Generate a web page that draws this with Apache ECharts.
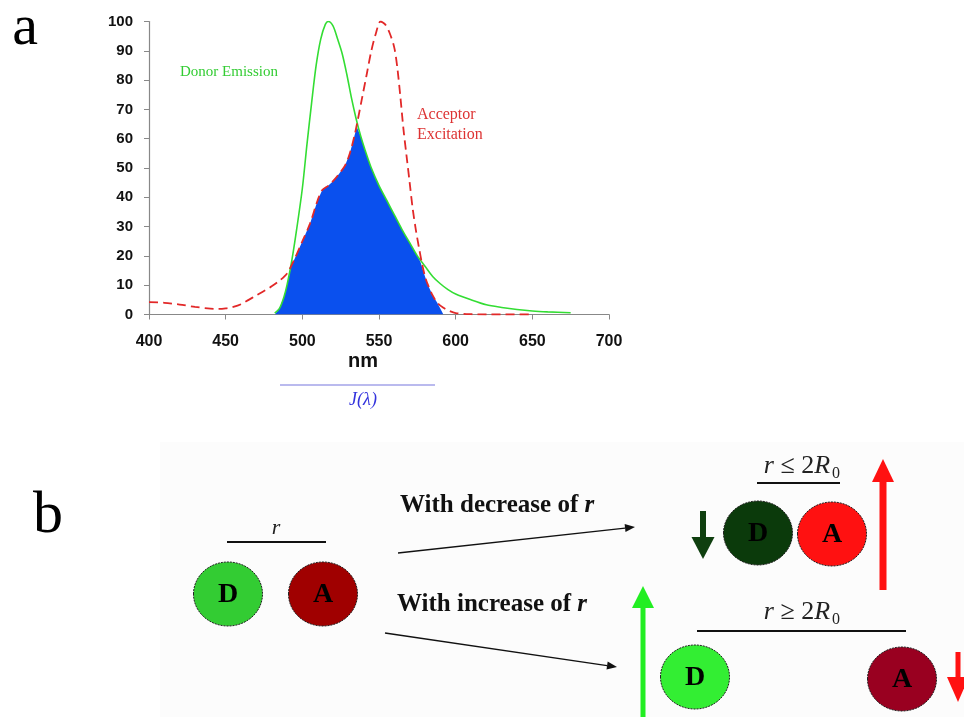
<!DOCTYPE html>
<html>
<head>
<meta charset="utf-8">
<script src="https://cdn.jsdelivr.net/npm/echarts@6/dist/echarts.min.js"></script>
<style>
html, body { margin: 0; padding: 0; background: #fff; }
#chart { width: 964px; height: 717px; }
</style>
</head>
<body>
<div id="chart"></div>
<script>
// spectra: [wavelength nm, normalised intensity]
var donorEmission = [
	[482, 0.5], [485, 2], [488, 6], [490, 10], [493, 18], [496, 28], [500, 43], [503, 58],
	[506, 72], [509, 85], [512, 94], [515, 99], [517, 100], [520, 98.5], [523, 94], [526, 89],
	[529, 82], [532, 74], [535, 67], [538, 61], [541, 56], [545, 50], [550, 44], [555, 39],
	[560, 34], [565, 29], [570, 24.5], [575, 20], [580, 16.5], [585, 13], [590, 10.5], [595, 8.5],
	[600, 7], [610, 5], [620, 3.3], [630, 2.4], [640, 1.7], [650, 1.2], [660, 0.9], [675, 0.6]
];
var acceptorExcitation = [
	[400, 4.2], [410, 4], [420, 3.4], [430, 2.6], [440, 2], [445, 1.9], [450, 2.1], [455, 2.6],
	[460, 3.5], [465, 5], [470, 6.5], [475, 8], [480, 9.6], [485, 11.5], [490, 14], [495, 19],
	[500, 25], [505, 31], [510, 39], [513, 42.5], [517, 44], [520, 45.5], [524, 48], [528, 51],
	[531, 55], [534, 61], [536, 66], [539, 74], [542, 82], [545, 90], [548, 96], [551, 100],
	[554, 99], [557, 96], [560, 91], [562, 84], [564, 74], [566, 63], [568, 54], [570, 45],
	[572, 36], [574, 29], [576, 23], [578, 17.5], [580, 13], [582, 10], [585, 6.5], [588, 4],
	[592, 2.3], [596, 1.2], [600, 0.5], [610, 0.1], [620, 0], [650, 0]
];
// shaded overlap J(lambda)
var overlapArea = [
	[482, 0], [485, 2], [488, 6], [490, 10], [493, 17], [495, 19], [500, 25], [505, 31],
	[510, 39], [513, 42.5], [517, 44], [520, 45.5], [524, 48], [528, 51], [531, 55], [534, 61],
	[535.5, 64], [538, 61], [541, 56], [545, 50], [550, 44], [555, 39], [560, 34], [565, 29],
	[570, 24.5], [575, 20], [577, 18], [580, 13], [582, 10], [585, 6.5], [588, 4], [592, 0]
];
var xTicks = { min: 400, max: 700, step: 50 };
var yTicks = { min: 0, max: 100, step: 10 };

var SERIF = '"Liberation Serif", "Times New Roman", serif';
var SANS = '"Liberation Sans", Arial, sans-serif';

function txt(x, y, text, font, color, align, extra) {
	var el = {
		type: 'text', x: x, y: y, z: 10,
		style: {
			text: text, font: font, fill: color,
			textAlign: align || 'center', align: align || 'center',
			textVerticalAlign: 'middle', verticalAlign: 'middle'
		}
	};
	if (extra) for (var k in extra) el.style[k] = extra[k];
	return el;
}
function line(x1, y1, x2, y2, color, w) {
	return { type: 'line', z: 5, shape: { x1: x1, y1: y1, x2: x2, y2: y2 }, style: { stroke: color, lineWidth: w } };
}
function head(points, color) {
	return { type: 'polygon', z: 6, shape: { points: points }, style: { fill: color } };
}
// thin black pointer arrow
function pointer(x1, y1, x2, y2) {
	var a = Math.atan2(y2 - y1, x2 - x1), L = 10, W = 4;
	var bx = x2 - L * Math.cos(a), by = y2 - L * Math.sin(a);
	return [
		line(x1, y1, bx, by, '#111', 1.3),
		head([[x2, y2], [bx + W * Math.sin(a), by - W * Math.cos(a)], [bx - W * Math.sin(a), by + W * Math.cos(a)]], '#111')
	];
}
// thick vertical arrow, tip at (x, yTip), tail at yTail
function vArrow(x, yTail, yTip, headLen, headHalf, shaftW, color) {
	var dir = yTip < yTail ? 1 : -1;
	var base = yTip + dir * headLen;
	return [
		line(x, yTail, x, base, color, shaftW),
		head([[x, yTip], [x - headHalf, base], [x + headHalf, base]], color)
	];
}
function ball(cx, cy, fill, label) {
	return [
		{ type: 'ellipse', z: 5, shape: { cx: cx, cy: cy, rx: 34.5, ry: 32 },
			style: { fill: fill, stroke: '#222', lineWidth: 1, lineDash: [2, 1] } },
		txt(cx, cy + 1, label, 'bold 28px ' + SERIF, '#000')
	];
}
var boldRich = {
	n: { font: 'bold 25px ' + SERIF, fill: '#111' },
	i: { font: 'italic bold 25px ' + SERIF, fill: '#111' }
};
var mathRich = { i: { font: 'italic 26px ' + SERIF, fill: '#222' } };

var graphics = [
	{ type: 'rect', z: -10, shape: { x: 160, y: 442, width: 804, height: 275 }, style: { fill: '#fcfcfc' } },
	txt(25, 29, 'a', '58px ' + SERIF, '#000'),
	txt(48, 516, 'b', '60px ' + SERIF, '#000'),
	txt(229, 72, 'Donor Emission', '15px ' + SERIF, '#33cc33'),
	txt(417, 115, 'Acceptor', '16px ' + SERIF, '#dd3333', 'left'),
	txt(417, 135, 'Excitation', '16px ' + SERIF, '#dd3333', 'left'),
	txt(363, 361, 'nm', 'bold 20px ' + SANS, '#111'),
	line(280, 385, 435, 385, '#7777dd', 1.2),
	txt(363, 400, 'J(λ)', 'italic 18px ' + SERIF, '#3333dd'),
	// panel b
	txt(276, 528, 'r', 'italic 22px ' + SERIF, '#222'),
	line(227, 542, 326, 542, '#111', 2),
	txt(400, 506, '{n|With decrease of }{i|r}', 'bold 25px ' + SERIF, '#111', 'left', { rich: boldRich }),
	txt(397, 605, '{n|With increase of }{i|r}', 'bold 25px ' + SERIF, '#111', 'left', { rich: boldRich }),
	txt(797, 466, '{i|r} ≤ 2{i|R}', '26px ' + SERIF, '#222', 'center', { rich: mathRich }),
	txt(836, 474, '0', '16px ' + SERIF, '#222'),
	line(757, 483, 840, 483, '#111', 2),
	txt(797, 612, '{i|r} ≥ 2{i|R}', '26px ' + SERIF, '#222', 'center', { rich: mathRich }),
	txt(836, 620, '0', '16px ' + SERIF, '#222'),
	line(697, 631, 906, 631, '#111', 2)
];
graphics = graphics
	.concat(ball(228, 594, '#33cc33', 'D'))
	.concat(ball(323, 594, '#a00000', 'A'))
	.concat(ball(758, 533, '#0b3a0b', 'D'))
	.concat(ball(832, 534, '#ff1111', 'A'))
	.concat(ball(695, 677, '#33ee33', 'D'))
	.concat(ball(902, 679, '#990020', 'A'))
	.concat(pointer(398, 553, 635, 527))
	.concat(pointer(385, 633, 617, 667))
	.concat(vArrow(703, 511, 559, 22, 11.5, 6, '#0f3f0f'))
	.concat(vArrow(883, 590, 459, 23, 11, 7, '#ff1111'))
	.concat(vArrow(643, 717, 586, 22, 11, 5, '#22ee22'))
	.concat(vArrow(958, 652, 702, 25, 11, 5, '#ff1111'));

var chart = echarts.init(document.getElementById('chart'));
chart.setOption({
	backgroundColor: '#fff',
	animation: false,
	grid: { left: 149, right: 355, top: 21.5, bottom: 402.5 },
	xAxis: {
		type: 'value', min: xTicks.min, max: xTicks.max, interval: xTicks.step,
		axisLine: { lineStyle: { color: '#888', width: 1.2 } },
		axisTick: { length: 5, lineStyle: { color: '#888' } },
		axisLabel: { margin: 19, color: '#111', fontWeight: 'bold', fontSize: 16, fontFamily: SANS },
		splitLine: { show: false }
	},
	yAxis: {
		type: 'value', min: yTicks.min, max: yTicks.max, interval: yTicks.step,
		axisLine: { show: true, lineStyle: { color: '#888', width: 1.2 } },
		axisTick: { show: true, length: 5, lineStyle: { color: '#888' } },
		axisLabel: { margin: 16, color: '#111', fontWeight: 'bold', fontSize: 15, fontFamily: SANS },
		splitLine: { show: false }
	},
	series: [
		{
			name: 'Overlap', type: 'line', data: overlapArea, symbol: 'none', z: 1,
			lineStyle: { width: 0 }, areaStyle: { color: '#0a50ee', opacity: 1 }
		},
		{
			name: 'Donor Emission', type: 'line', data: donorEmission, symbol: 'none', smooth: 0.3, z: 3,
			lineStyle: { color: '#33dd33', width: 1.6 }
		},
		{
			name: 'Acceptor Excitation', type: 'line', data: acceptorExcitation, symbol: 'none', smooth: 0.3, z: 4,
			lineStyle: { color: '#e22828', width: 1.8, type: [9, 5] }
		}
	],
	graphic: graphics
});
</script>
</body>
</html>
